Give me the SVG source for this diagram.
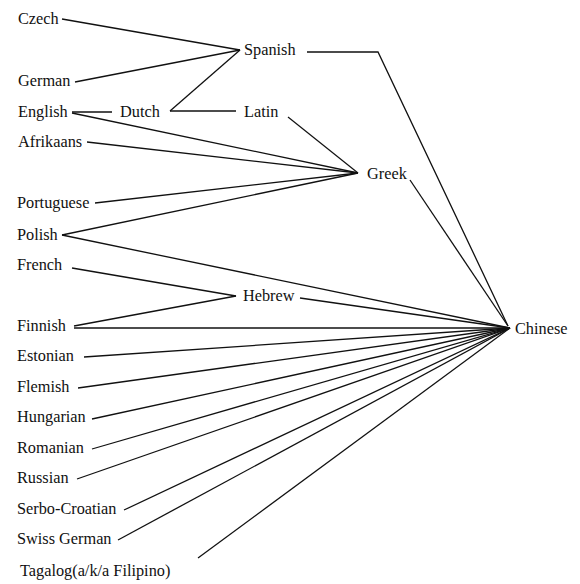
<svg xmlns="http://www.w3.org/2000/svg" width="580" height="584" viewBox="0 0 580 584">
<style>
text{font-family:"Liberation Serif","Times New Roman",serif;font-size:16.3px;fill:#111}
.c line,.c polyline{stroke:#111;stroke-width:1.3;fill:none}
</style>
<rect width="580" height="584" fill="#fff"/>
<g class="c" id="connectors">
<line x1="62" y1="19" x2="240" y2="50"/>
<line x1="75" y1="82" x2="240" y2="50"/>
<line x1="170" y1="111" x2="240" y2="50"/>
<line x1="170" y1="111" x2="236" y2="111"/>
<line x1="72" y1="112" x2="112" y2="112"/>
<line x1="72" y1="113" x2="358" y2="173"/>
<line x1="288" y1="117" x2="358" y2="173"/>
<line x1="87" y1="142" x2="358" y2="173"/>
<line x1="95" y1="203" x2="358" y2="173"/>
<line x1="62" y1="235" x2="358" y2="173"/>
<line x1="62" y1="235" x2="510" y2="328"/>
<line x1="72" y1="268" x2="236" y2="296"/>
<line x1="74" y1="326" x2="236" y2="296"/>
<line x1="300" y1="298" x2="510" y2="328"/>
<line x1="74" y1="328" x2="510" y2="328"/>
<line x1="84" y1="357" x2="510" y2="328"/>
<line x1="78" y1="388" x2="510" y2="328"/>
<line x1="92" y1="419" x2="510" y2="328"/>
<line x1="92" y1="449" x2="510" y2="328"/>
<line x1="77" y1="479" x2="510" y2="328"/>
<line x1="124" y1="510" x2="510" y2="328"/>
<line x1="118" y1="540" x2="510" y2="328"/>
<line x1="198" y1="558" x2="510" y2="328"/>
<polyline points="307,52 378,52 508,326"/>
<line x1="410" y1="180" x2="508" y2="326"/>
</g>
<g id="czech"><text x="18" y="24">Czech</text></g>
<g id="spanish"><text x="244" y="55">Spanish</text></g>
<g id="german"><text x="18" y="86">German</text></g>
<g id="english"><text x="18" y="117">English</text></g>
<g id="dutch"><text x="120" y="117">Dutch</text></g>
<g id="latin"><text x="244" y="117">Latin</text></g>
<g id="afrikaans"><text x="18" y="147">Afrikaans</text></g>
<g id="greek"><text x="367" y="179">Greek</text></g>
<g id="portuguese"><text x="17" y="208">Portuguese</text></g>
<g id="polish"><text x="17" y="240">Polish</text></g>
<g id="french"><text x="17" y="270">French</text></g>
<g id="hebrew"><text x="243" y="301">Hebrew</text></g>
<g id="finnish"><text x="17" y="331">Finnish</text></g>
<g id="chinese"><text x="515" y="334">Chinese</text></g>
<g id="estonian"><text x="17" y="361">Estonian</text></g>
<g id="flemish"><text x="17" y="392">Flemish</text></g>
<g id="hungarian"><text x="17" y="422">Hungarian</text></g>
<g id="romanian"><text x="17" y="453">Romanian</text></g>
<g id="russian"><text x="17" y="483">Russian</text></g>
<g id="serbo-croatian"><text x="17" y="514">Serbo-Croatian</text></g>
<g id="swiss-german"><text x="17" y="544">Swiss German</text></g>
<g id="tagalog"><text x="20" y="576">Tagalog(a/k/a Filipino)</text></g>
</svg>
